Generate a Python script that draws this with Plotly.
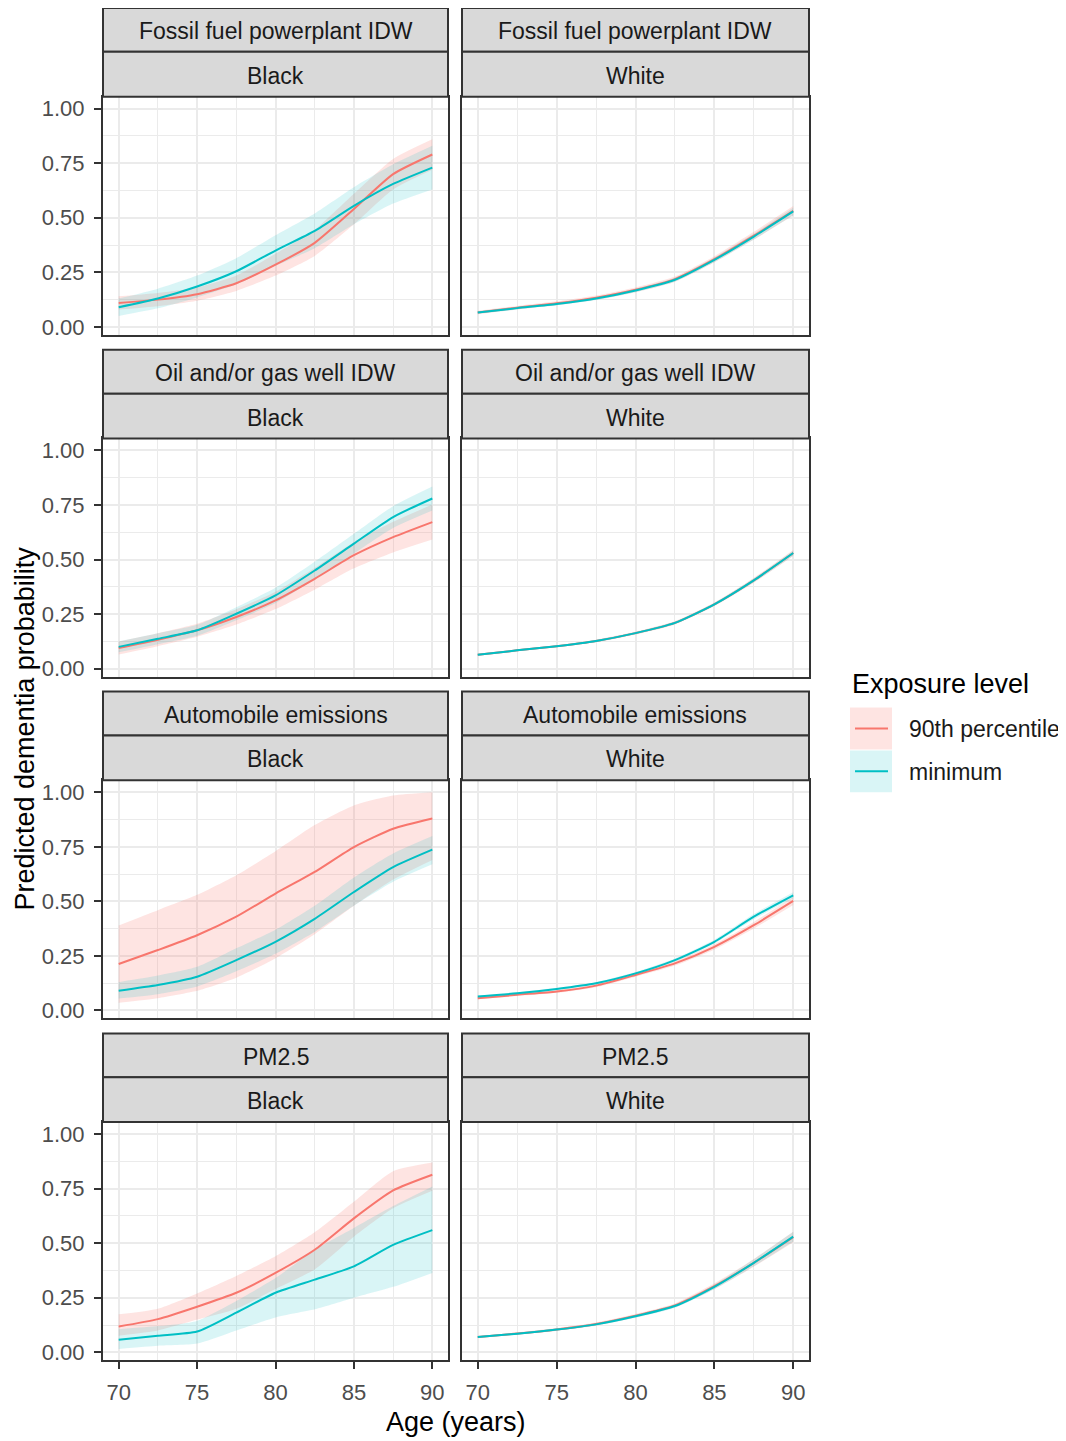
import plotly.graph_objects as go

# ---------------- data ----------------
ages = [70, 72.5, 75, 77.5, 80, 82.5, 85, 87.5, 90]
x_ticks = [70, 75, 80, 85, 90]
y_ticks = [0.0, 0.25, 0.5, 0.75, 1.0]
y_tick_labels = ["0.00", "0.25", "0.50", "0.75", "1.00"]
exposures = ["Fossil fuel powerplant IDW", "Oil and/or gas well IDW", "Automobile emissions", "PM2.5"]
races = ["Black", "White"]
levels = ["90th percentile", "minimum"]

# Fossil fuel powerplant IDW - Black
fossil_black_p90 = [0.11, 0.125, 0.15, 0.20, 0.285, 0.385, 0.54, 0.70, 0.79]
fossil_black_p90_lo = [0.08, 0.095, 0.12, 0.165, 0.235, 0.325, 0.47, 0.63, 0.72]
fossil_black_p90_hi = [0.14, 0.155, 0.18, 0.235, 0.335, 0.445, 0.61, 0.77, 0.86]
fossil_black_min = [0.09, 0.13, 0.185, 0.255, 0.35, 0.44, 0.555, 0.655, 0.73]
fossil_black_min_lo = [0.05, 0.085, 0.135, 0.195, 0.28, 0.36, 0.47, 0.565, 0.63]
fossil_black_min_hi = [0.13, 0.175, 0.235, 0.315, 0.42, 0.52, 0.64, 0.745, 0.83]
# Fossil fuel powerplant IDW - White
fossil_white_p90 = [0.066, 0.088, 0.108, 0.134, 0.170, 0.219, 0.310, 0.418, 0.532]
fossil_white_p90_lo = [0.058, 0.080, 0.099, 0.124, 0.159, 0.207, 0.296, 0.400, 0.510]
fossil_white_p90_hi = [0.074, 0.096, 0.117, 0.144, 0.181, 0.231, 0.324, 0.436, 0.554]
fossil_white_min = [0.066, 0.086, 0.105, 0.130, 0.167, 0.216, 0.307, 0.414, 0.529]
fossil_white_min_lo = [0.060, 0.080, 0.099, 0.123, 0.159, 0.207, 0.296, 0.400, 0.512]
fossil_white_min_hi = [0.072, 0.092, 0.111, 0.137, 0.175, 0.225, 0.318, 0.428, 0.546]

# Oil and/or gas well IDW - Black
oil_black_p90 = [0.095, 0.133, 0.176, 0.237, 0.313, 0.412, 0.52, 0.603, 0.672]
oil_black_p90_lo = [0.065, 0.103, 0.146, 0.202, 0.273, 0.362, 0.46, 0.533, 0.592]
oil_black_p90_hi = [0.125, 0.163, 0.206, 0.272, 0.353, 0.462, 0.58, 0.673, 0.752]
oil_black_min = [0.10, 0.137, 0.176, 0.252, 0.336, 0.45, 0.573, 0.695, 0.78]
oil_black_min_lo = [0.075, 0.112, 0.151, 0.222, 0.301, 0.41, 0.528, 0.645, 0.725]
oil_black_min_hi = [0.125, 0.162, 0.201, 0.282, 0.371, 0.49, 0.618, 0.745, 0.835]
# Oil and/or gas well IDW - White
oil_white_p90 = [0.064, 0.084, 0.103, 0.127, 0.163, 0.210, 0.295, 0.405, 0.530]
oil_white_p90_lo = [0.059, 0.079, 0.098, 0.121, 0.157, 0.203, 0.287, 0.394, 0.516]
oil_white_p90_hi = [0.069, 0.089, 0.108, 0.133, 0.169, 0.217, 0.303, 0.416, 0.544]
oil_white_min = [0.064, 0.084, 0.103, 0.127, 0.163, 0.210, 0.295, 0.405, 0.530]
oil_white_min_lo = [0.060, 0.080, 0.099, 0.122, 0.158, 0.204, 0.288, 0.396, 0.518]
oil_white_min_hi = [0.068, 0.088, 0.107, 0.132, 0.168, 0.216, 0.302, 0.414, 0.542]

# Automobile emissions - Black
auto_black_p90 = [0.213, 0.277, 0.345, 0.43, 0.536, 0.635, 0.749, 0.833, 0.88]
auto_black_p90_lo = [0.035, 0.056, 0.09, 0.15, 0.24, 0.35, 0.48, 0.60, 0.69]
auto_black_p90_hi = [0.39, 0.46, 0.53, 0.62, 0.73, 0.85, 0.94, 0.985, 1.0]
auto_black_min = [0.091, 0.117, 0.155, 0.231, 0.315, 0.42, 0.543, 0.657, 0.737]
auto_black_min_lo = [0.055, 0.075, 0.11, 0.18, 0.26, 0.36, 0.48, 0.59, 0.67]
auto_black_min_hi = [0.13, 0.16, 0.20, 0.285, 0.37, 0.48, 0.61, 0.72, 0.80]
# Automobile emissions - White
auto_white_p90 = [0.056, 0.072, 0.087, 0.114, 0.163, 0.216, 0.292, 0.391, 0.502]
auto_white_p90_lo = [0.051, 0.066, 0.081, 0.107, 0.155, 0.206, 0.280, 0.376, 0.484]
auto_white_p90_hi = [0.061, 0.078, 0.093, 0.121, 0.171, 0.226, 0.304, 0.406, 0.520]
auto_white_min = [0.064, 0.079, 0.099, 0.125, 0.170, 0.231, 0.315, 0.430, 0.528]
auto_white_min_lo = [0.060, 0.075, 0.094, 0.120, 0.164, 0.224, 0.306, 0.418, 0.514]
auto_white_min_hi = [0.068, 0.083, 0.104, 0.130, 0.176, 0.238, 0.324, 0.442, 0.542]

# PM2.5 - Black
pm_black_p90 = [0.118, 0.152, 0.209, 0.273, 0.364, 0.47, 0.614, 0.742, 0.814]
pm_black_p90_lo = [0.076, 0.10, 0.15, 0.20, 0.29, 0.38, 0.53, 0.66, 0.74]
pm_black_p90_hi = [0.174, 0.20, 0.27, 0.35, 0.44, 0.55, 0.69, 0.83, 0.87]
pm_black_min = [0.058, 0.076, 0.095, 0.182, 0.273, 0.333, 0.394, 0.492, 0.56]
pm_black_min_lo = [0.015, 0.03, 0.04, 0.10, 0.16, 0.197, 0.25, 0.30, 0.364]
pm_black_min_hi = [0.106, 0.12, 0.144, 0.235, 0.34, 0.47, 0.57, 0.67, 0.76]
# PM2.5 - White
pm_white_p90 = [0.070, 0.086, 0.105, 0.130, 0.168, 0.215, 0.303, 0.410, 0.528]
pm_white_p90_lo = [0.065, 0.081, 0.099, 0.123, 0.160, 0.206, 0.290, 0.392, 0.504]
pm_white_p90_hi = [0.075, 0.091, 0.111, 0.137, 0.176, 0.224, 0.316, 0.428, 0.552]
pm_white_min = [0.070, 0.085, 0.104, 0.128, 0.165, 0.212, 0.300, 0.410, 0.530]
pm_white_min_lo = [0.066, 0.081, 0.099, 0.122, 0.158, 0.204, 0.289, 0.394, 0.508]
pm_white_min_hi = [0.074, 0.089, 0.109, 0.134, 0.172, 0.220, 0.311, 0.426, 0.552]

panels = [
    [(fossil_black_p90, fossil_black_p90_lo, fossil_black_p90_hi, fossil_black_min, fossil_black_min_lo, fossil_black_min_hi),
     (fossil_white_p90, fossil_white_p90_lo, fossil_white_p90_hi, fossil_white_min, fossil_white_min_lo, fossil_white_min_hi)],
    [(oil_black_p90, oil_black_p90_lo, oil_black_p90_hi, oil_black_min, oil_black_min_lo, oil_black_min_hi),
     (oil_white_p90, oil_white_p90_lo, oil_white_p90_hi, oil_white_min, oil_white_min_lo, oil_white_min_hi)],
    [(auto_black_p90, auto_black_p90_lo, auto_black_p90_hi, auto_black_min, auto_black_min_lo, auto_black_min_hi),
     (auto_white_p90, auto_white_p90_lo, auto_white_p90_hi, auto_white_min, auto_white_min_lo, auto_white_min_hi)],
    [(pm_black_p90, pm_black_p90_lo, pm_black_p90_hi, pm_black_min, pm_black_min_lo, pm_black_min_hi),
     (pm_white_p90, pm_white_p90_lo, pm_white_p90_hi, pm_white_min, pm_white_min_lo, pm_white_min_hi)],
]

# ---------------- styling / layout ----------------
OFF = 8  # page body margin in the browser
W, H = 1066 - OFF, 1441 - OFF
FONT = "Liberation Sans, Arial, sans-serif"
RED = "#F8766D"
CYAN = "#00BFC4"
RED_FILL = "rgba(248,118,109,0.2)"
CYAN_FILL = "rgba(0,191,196,0.15)"
BORDER = "#333333"
GRID = "#EBEBEB"
STRIP_FILL = "#D9D9D9"

col_x = [(103, 448), (462, 809)]
row_top = [8, 351, 694, 1037]


def px(x):
    return (x - OFF) / W


def py(y):
    return 1 - (y - OFF) / H


fig = go.Figure()
layout = dict(
    width=W, height=H,
    margin=dict(l=0, r=0, t=0, b=0),
    paper_bgcolor="white", plot_bgcolor="white",
    showlegend=False,
    font=dict(family=FONT, color="#1A1A1A"),
)
shapes = []
annotations = []

for r in range(4):
    top = row_top[r]
    p_top, p_bot = top + 89, top + 328
    for c in range(2):
        idx = r * 2 + c + 1
        xa = "x" if idx == 1 else f"x{idx}"
        ya = "y" if idx == 1 else f"y{idx}"
        x0, x1 = col_x[c]
        p90, p90_lo, p90_hi, mn, mn_lo, mn_hi = panels[r][c]

        # ribbons
        for lo, hi, fillc in ((p90_lo, p90_hi, RED_FILL), (mn_lo, mn_hi, CYAN_FILL)):
            fig.add_trace(go.Scatter(x=ages, y=lo, mode="lines", line=dict(width=0, shape="spline", smoothing=0.6),
                                     hoverinfo="skip", xaxis=xa, yaxis=ya))
            fig.add_trace(go.Scatter(x=ages, y=hi, mode="lines", line=dict(width=0, shape="spline", smoothing=0.6),
                                     fill="tonexty", fillcolor=fillc, hoverinfo="skip", xaxis=xa, yaxis=ya))
        # lines
        for vals, col, name in ((p90, RED, levels[0]), (mn, CYAN, levels[1])):
            fig.add_trace(go.Scatter(x=ages, y=vals, mode="lines", name=name,
                                     line=dict(color=col, width=2, shape="spline", smoothing=0.6),
                                     xaxis=xa, yaxis=ya))

        bottom_row = (r == 3)
        left_col = (c == 0)
        xkey = "xaxis" if idx == 1 else f"xaxis{idx}"
        ykey = "yaxis" if idx == 1 else f"yaxis{idx}"
        layout[xkey] = dict(
            domain=[px(x0), px(x1)], anchor=ya, range=[69, 91],
            tickvals=x_ticks, ticktext=[str(v) for v in x_ticks],
            showticklabels=bottom_row, ticks="outside" if bottom_row else "",
            ticklen=7, tickwidth=1.6, tickcolor=BORDER,
            tickfont=dict(family=FONT, size=22, color="#4D4D4D"),
            showgrid=True, gridcolor=GRID, gridwidth=2,
            minor=dict(dtick=2.5, tick0=70, showgrid=True, gridcolor=GRID, gridwidth=1.2, ticks=""),
            showline=True, mirror=True, linecolor=BORDER, linewidth=2,
            zeroline=False, fixedrange=True, ticklabelstandoff=4,
        )
        layout[ykey] = dict(
            domain=[py(p_bot), py(p_top)], anchor=xa, range=[-0.0365, 1.055],
            tickvals=y_ticks, ticktext=y_tick_labels,
            showticklabels=left_col, ticks="outside" if left_col else "",
            ticklen=7, tickwidth=1.6, tickcolor=BORDER,
            tickfont=dict(family=FONT, size=22, color="#4D4D4D"),
            showgrid=True, gridcolor=GRID, gridwidth=2,
            minor=dict(dtick=0.125, tick0=0, showgrid=True, gridcolor=GRID, gridwidth=1.2, ticks=""),
            showline=True, mirror=True, linecolor=BORDER, linewidth=2,
            zeroline=False, fixedrange=True, ticklabelstandoff=5,
        )

        # strips
        for (s0, s1, label) in ((top, top + 44, exposures[r]), (top + 44, top + 89, races[c])):
            shapes.append(dict(type="rect", xref="paper", yref="paper",
                               x0=px(x0), x1=px(x1), y0=py(s1), y1=py(s0),
                               fillcolor=STRIP_FILL, line=dict(color=BORDER, width=2), layer="above"))
            annotations.append(dict(text=label, xref="paper", yref="paper",
                                    x=px((x0 + x1) / 2), y=py((s0 + s1) / 2 + 1.5),
                                    xanchor="center", yanchor="middle", showarrow=False,
                                    font=dict(family=FONT, size=23, color="#1A1A1A")))

# axis titles
annotations.append(dict(text="Age (years)", xref="paper", yref="paper", x=px(456), y=py(1427),
                        xanchor="center", yanchor="middle", showarrow=False,
                        font=dict(family=FONT, size=27, color="black")))
annotations.append(dict(text="Predicted dementia probability", xref="paper", yref="paper", x=px(25), y=py(731),
                        xanchor="center", yanchor="middle", showarrow=False, textangle=-90,
                        font=dict(family=FONT, size=27, color="black")))

# legend (drawn manually, ggplot-style keys)
annotations.append(dict(text="Exposure level", xref="paper", yref="paper", x=px(850), y=py(686),
                        xanchor="left", yanchor="middle", showarrow=False,
                        font=dict(family=FONT, size=27, color="black")))
key_rows = [(710, 752, RED, RED_FILL, levels[0]), (753, 795, CYAN, CYAN_FILL, levels[1])]
for (k0, k1, lc, fc, label) in key_rows:
    shapes.append(dict(type="rect", xref="paper", yref="paper", x0=px(850), x1=px(892),
                       y0=py(k1), y1=py(k0), fillcolor=fc, line=dict(width=0)))
    ym = (k0 + k1) / 2
    shapes.append(dict(type="line", xref="paper", yref="paper", x0=px(855), x1=px(888),
                       y0=py(ym), y1=py(ym), line=dict(color=lc, width=2)))
    annotations.append(dict(text=label, xref="paper", yref="paper", x=px(907), y=py(ym + 1),
                            xanchor="left", yanchor="middle", showarrow=False,
                            font=dict(family=FONT, size=23, color="#1A1A1A")))

layout["shapes"] = shapes
layout["annotations"] = annotations
fig.update_layout(**layout)
fig.write_html("out.html")
